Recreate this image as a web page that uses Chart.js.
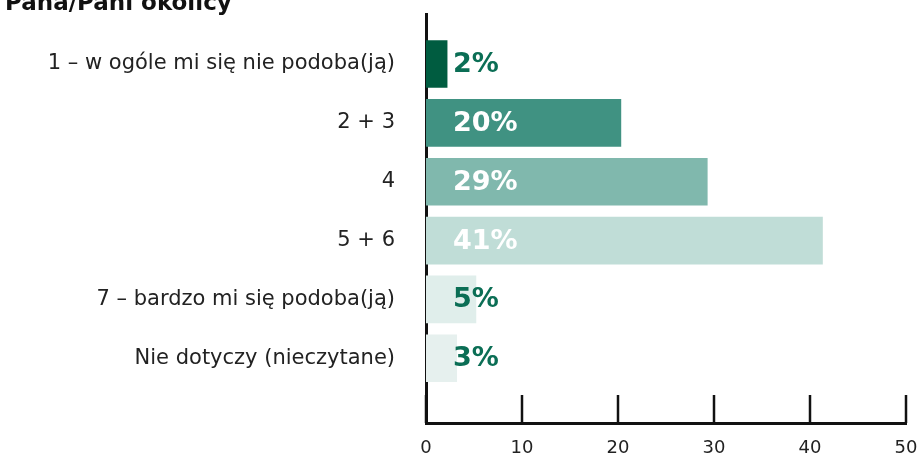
<!DOCTYPE html>
<html>
<head>
<meta charset="utf-8">
<script src="https://cdn.jsdelivr.net/npm/chart.js@4/dist/chart.umd.min.js"></script>
<style>
  html, body { margin: 0; padding: 0; background: #fff; }
  #wrap { width: 919px; height: 459px; }
</style>
</head>
<body>
<div id="wrap"><canvas id="chart"></canvas></div>
<script>
const categories = [
  "1 – w ogóle mi się nie podoba(ją)",
  "2 + 3",
  "4",
  "5 + 6",
  "7 – bardzo mi się podoba(ją)",
  "Nie dotyczy (nieczytane)"
];
const values = [2.2, 20.3, 29.3, 41.3, 5.2, 3.2];
const valueLabels = ["2%", "20%", "29%", "41%", "5%", "3%"];
const xTicks = [0, 10, 20, 30, 40, 50];
const barColors = ["#005c40", "#409282", "#80b8ad", "#c0ddd7", "#e0eeeb", "#e6f0ee"];
const labelColors = ["#0b6e55", "#ffffff", "#ffffff", "#ffffff", "#0b6e55", "#0b6e55"];
const titleText = "Pana/Pani okolicy";

const FONT = "'DejaVu Sans', sans-serif";

// bold % labels inside bars, plus inward tick marks and the clipped title
const extras = {
  id: "extras",
  afterDatasetsDraw(chart) {
    const ctx = chart.ctx;
    const meta = chart.getDatasetMeta(0);
    const left = chart.scales.x.getPixelForValue(0);
    ctx.save();
    ctx.font = "bold 27px " + FONT;
    ctx.textBaseline = "middle";
    ctx.textAlign = "left";
    meta.data.forEach((bar, i) => {
      ctx.fillStyle = labelColors[i];
      ctx.fillText(valueLabels[i], left + 27, bar.y + 1);
    });
    ctx.restore();
  },
  afterDraw(chart) {
    const ctx = chart.ctx;
    const x = chart.scales.x;
    const bottom = chart.chartArea.bottom;
    ctx.save();
    ctx.strokeStyle = "#111";
    ctx.lineWidth = 2.5;
    xTicks.forEach(v => {
      const px = Math.round(x.getPixelForValue(v));
      ctx.beginPath();
      ctx.moveTo(px, bottom - 28);
      ctx.lineTo(px, bottom);
      ctx.stroke();
    });
    ctx.fillStyle = "#111";
    ctx.font = "bold 23px " + FONT;
    ctx.textBaseline = "alphabetic";
    ctx.fillText(titleText, 5, 10);
    ctx.restore();
  }
};

new Chart(document.getElementById("chart"), {
  type: "bar",
  data: {
    datasets: [{
      data: values.map((v, i) => ({ x: v, y: i })),
      backgroundColor: barColors,
      barThickness: 47,
      borderWidth: 0
    }]
  },
  options: {
    indexAxis: "y",
    responsive: true,
    maintainAspectRatio: false,
    animation: false,
    layout: { padding: { top: 14, right: 13, left: 0, bottom: 0 } },
    plugins: { legend: { display: false }, tooltip: { enabled: false } },
    scales: {
      x: {
        type: "linear",
        min: 0,
        max: 50,
        afterBuildTicks: s => { s.ticks = xTicks.map(v => ({ value: v })); },
        grid: { display: false, drawTicks: true, tickLength: 15 },
        border: { display: true, color: "#111", width: 3 },
        ticks: { color: "#222", font: { family: FONT, size: 18 }, padding: 0 },
        afterFit: s => { s.height = 36; }
      },
      y: {
        type: "linear",
        reverse: true,
        offset: false,
        bounds: "data",
        min: -0.85,
        max: 6.1,
        afterBuildTicks: s => { s.ticks = categories.map((_, i) => ({ value: i })); },
        grid: { display: false, drawTicks: true, tickLength: 31 },
        border: { display: true, color: "#111", width: 3 },
        ticks: {
          color: "#222",
          font: { family: FONT, size: 21 },
          padding: 0,
          callback: v => categories[v] ?? ""
        },
        afterFit: s => { s.width = 426; }
      }
    }
  },
  plugins: [extras]
});
</script>
</body>
</html>
